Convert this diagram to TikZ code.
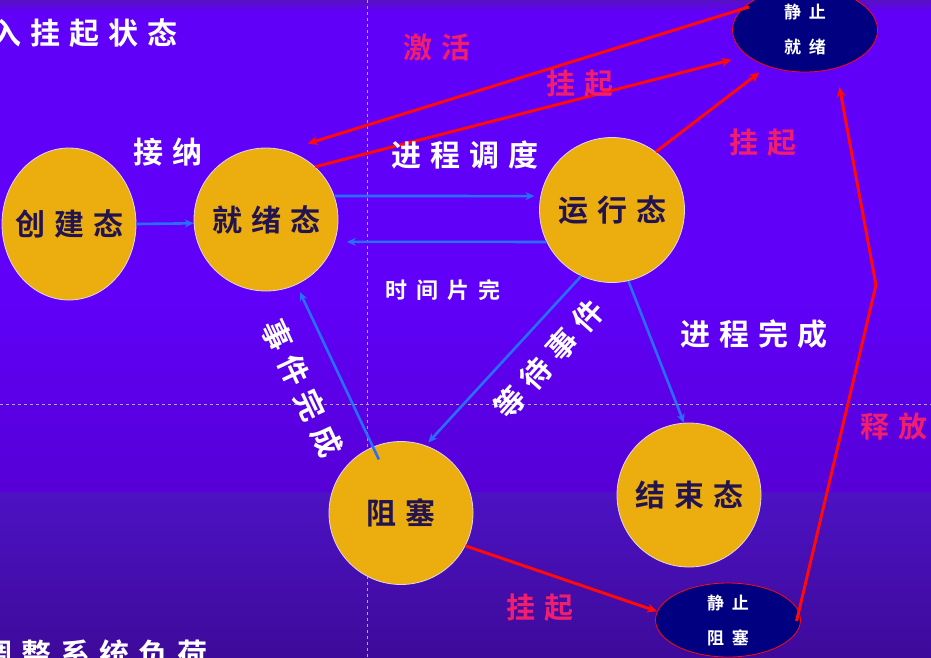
\documentclass[tikz,border=0pt]{standalone}
\usepackage{fontspec}
\newfontfamily\cjk{Noto Sans CJK SC}[BoldFont={Noto Sans CJK SC Bold},LetterSpace=30]
\newfontfamily\cjkm{Noto Sans CJK SC}[BoldFont={Noto Sans CJK SC Bold},LetterSpace=40]
\newfontfamily\cjks{Noto Sans CJK SC}[BoldFont={Noto Sans CJK SC Bold},LetterSpace=45]
\usetikzlibrary{shapes.geometric,arrows.meta}
\definecolor{bgtop}{RGB}{96,0,248}
\definecolor{bgmid}{RGB}{86,0,214}
\definecolor{bglow}{RGB}{76,18,196}
\definecolor{bgbot}{RGB}{62,10,154}
\definecolor{bgedge}{RGB}{88,16,196}
\definecolor{gold}{RGB}{236,174,14}
\definecolor{goldedge}{RGB}{222,214,236}
\definecolor{darktext}{RGB}{35,20,80}
\definecolor{navy}{RGB}{0,0,128}
\definecolor{arrowblue}{RGB}{40,110,255}
\definecolor{arrowred}{RGB}{255,10,10}
\definecolor{labelred}{RGB}{240,30,110}
\definecolor{guide}{RGB}{176,168,200}
\tikzset{
  statenode/.style={ellipse, draw=goldedge, line width=0.8pt, fill=gold, inner sep=0pt},
  statetext/.style={text=darktext, inner sep=0pt, font=\cjk\bfseries\fontsize{30}{30}\selectfont},
  staticnode/.style={ellipse, draw=arrowred, line width=0.8pt, fill=navy, inner sep=0pt},
  statictext/.style={text=white, align=center, inner sep=0pt, font=\cjks\bfseries\fontsize{17}{35}\selectfont},
  bluearrow/.style={draw=arrowblue, line width=2.6pt, -{Stealth[length=9pt,width=8pt]}},
  redarrow/.style={draw=arrowred, line width=3pt, -{Stealth[length=10pt,width=9pt]}},
  whitelabel/.style={text=white, font=\cjk\bfseries\fontsize{30}{30}\selectfont, inner sep=0pt},
  smalllabel/.style={text=white, font=\cjkm\bfseries\fontsize{22}{22}\selectfont, inner sep=0pt},
  redlabel/.style={text=labelred, font=\cjk\bfseries\fontsize{29}{29}\selectfont, inner sep=0pt},
  guideline/.style={draw=guide, line width=1pt, dash pattern=on 3pt off 3pt}
}
\begin{document}
\begin{tikzpicture}[x=1pt,y=-1pt]
\useasboundingbox (0,0) rectangle (931,657);
% background
\fill[bgtop] (0,0) rectangle (931,300);
\shade[top color=bgedge, bottom color=bgtop] (0,0) rectangle (931,12);
\shade[top color=bgtop, bottom color=bgmid] (0,300) rectangle (931,492);
\shade[top color=bglow, bottom color=bgbot] (0,492) rectangle (931,657);
% guide lines
\draw[guideline] (367,0) -- (367,657);
\draw[guideline] (0,404) -- (931,404);

% state nodes
\node[statenode, minimum width=134pt, minimum height=152pt,
  label={[statetext]center:创建态}] (cj) at (69,224) {};
\node[statenode, minimum width=144pt, minimum height=143pt,
  label={[statetext]center:就绪态}] (jx) at (266,219.5) {};
\node[statenode, minimum width=145pt, minimum height=145pt,
  label={[statetext]center:运行态}] (yx) at (612,210) {};
\node[statenode, minimum width=144pt, minimum height=143pt,
  label={[statetext]center:阻塞}] (zs) at (401,513) {};
\node[statenode, minimum width=144pt, minimum height=144pt,
  label={[statetext]center:结束态}] (js) at (689,495) {};
\node[staticnode, minimum width=145pt, minimum height=84pt,
  label={[statictext]center:静止\\就绪}] (jzjx) at (805,30) {};
\node[staticnode, minimum width=145pt, minimum height=74pt,
  label={[statictext]center:静止\\阻塞}] (jzzs) at (728,620) {};

% blue transitions
\draw[bluearrow] (cj.east) -- (jx.183.6);
\draw[bluearrow, shorten >=6pt] (jx.19) -- (yx.169);
\draw[bluearrow, shorten >=12pt] (yx.206) -- (jx.-18);
\draw[bluearrow, shorten >=4pt] (yx.245) -- (zs.70);
\draw[bluearrow, shorten <=-14pt, shorten >=8pt] (zs.113) -- (jx.-65.5);
\draw[bluearrow] (yx.-77) -- (js.94);

% red transitions
\draw[redarrow, shorten <=-8pt, shorten >=23pt] (jzjx.162) -- (jx.74.7);
\draw[redarrow, shorten >=16pt] (jx.47.5) -- (jzjx.204);
\draw[redarrow, shorten >=10pt] (yx.53) -- (jzjx.224);
\coordinate (bend) at (876,285);
\draw[redarrow, shorten <=-10pt, shorten >=19pt] (jzzs.7) -- (bend) -- (jzjx.-51);
\draw[redarrow] (zs.-27) -- (jzzs.173);

% labels
\node[whitelabel, anchor=east] (t1) at (178,33) {入挂起状态};
\node[whitelabel, anchor=east] (t2) at (208,654) {调整系统负荷};
\node[whitelabel] (l1) at (168,152) {接纳};
\node[whitelabel] (l2) at (465,155) {进程调度};
\node[smalllabel] (l3) at (443,290) {时间片完};
\node[whitelabel] (l4) at (754,334) {进程完成};
\node[whitelabel, rotate=-65] (l5) at (302,388) {事件完成};
\node[whitelabel, rotate=48] (l6) at (549,359) {等待事件};
\node[redlabel] (r1) at (437,47) {激活};
\node[redlabel] (r2) at (580,84) {挂起};
\node[redlabel] (r3) at (763,143) {挂起};
\node[redlabel] (r4) at (894,426) {释放};
\node[redlabel] (r5) at (540,608) {挂起};
\end{tikzpicture}
\end{document}
